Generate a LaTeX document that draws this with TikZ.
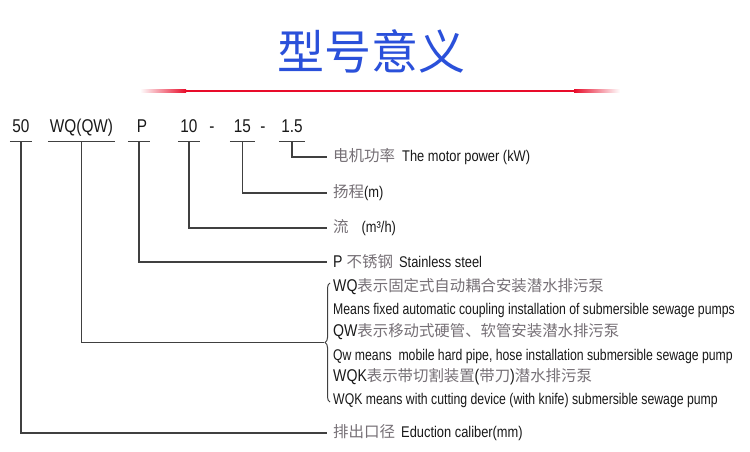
\documentclass[tikz,border=0pt]{standalone}
\usepackage{fontspec}
\setmainfont{Liberation Sans}
\newfontfamily\engfont[FakeStretch=0.83]{Liberation Sans}
\newfontfamily\engnarrow[FakeStretch=0.79]{Liberation Sans}
\newfontfamily\cjkfont{Noto Sans CJK SC}
\usetikzlibrary{decorations.pathreplacing}
\definecolor{titleblue}{RGB}{42,80,218}
\definecolor{barred}{RGB}{232,12,42}
\definecolor{linegray}{RGB}{64,64,64}
\definecolor{cjkgray}{RGB}{118,112,118}
\newcommand{\zh}[1]{{\cjkfont\color{cjkgray}#1}}
\newcommand{\bigsz}{\engfont\fontsize{17}{19}\selectfont}
\newcommand{\zhbig}[1]{{\cjkfont\fontsize{15.4}{18}\selectfont\color{cjkgray}#1}}
\tikzset{
  heading/.style={font=\cjkfont\fontsize{47}{50}\selectfont, text=titleblue, inner sep=0pt},
  code/.style ={anchor=base, inner xsep=0pt, inner ysep=0pt, text depth=9pt,
                font=\engfont\fontsize{18.5}{20}\selectfont, text=black!90},
  ul/.style   ={draw=linegray, line width=1.2pt},
  lead/.style ={draw=linegray, line width=1.2pt},
  desc/.style ={anchor=west, inner xsep=6pt, inner ysep=0pt,
                font=\engfont\fontsize{15.5}{17}\selectfont, text=black!90},
  note/.style ={anchor=west, inner sep=0pt,
                font=\engnarrow\fontsize{15.5}{17}\selectfont, text=black!90}
}

\begin{document}
\begin{tikzpicture}[x=1pt, y=-1pt]
  \useasboundingbox (0,0) rectangle (750,452);
  \fill[white] (0,0) rectangle (750,452);
  % title and bar
  \node[heading] (title) at (371,51) {型号意义};
  \fill[left color=white, right color=barred] (140,89.6) rectangle (186,92.4);
  \fill[barred] (186,89.6) rectangle (574,92.4);
  \fill[left color=barred, right color=white] (574,89.6) rectangle (620,92.4);
  % model code
  \node[code, minimum width=22pt] (c50) at (21,132) {50};
  \node[code, minimum width=67pt] (cwq) at (81.5,132) {WQ(QW)};
  \node[code, minimum width=22pt] (cp) at (139,132) {\hspace{6pt}P};
  \node[code, minimum width=22pt] (c10) at (189,132) {10};
  \node[code, text depth=0pt] (d1) at (212,132) {-};
  \node[code, minimum width=25pt] (c15) at (242.5,132) {15\hspace{6pt}};
  \node[code, text depth=0pt] (d2) at (263,132) {-};
  \node[code, minimum width=26pt] (c1p5) at (292,132) {1.5};
  \foreach \n in {c50,cwq,cp,c10,c15,c1p5}
    \draw[ul] (\n.south west) -- (\n.south east);
  % meanings
  \node[desc] (motor) at (327,157) {\zh{电机功率}\hspace{7pt}The motor power (kW)};
  \node[desc] (head) at (327,193) {\zh{扬程}(m)};
  \node[desc] (flow) at (327,228) {\zh{流}\hspace{13pt}(m³/h)};
  \node[desc] (steel) at (327,262) {{\bigsz P}\hspace{4pt}\zh{不锈钢}\hspace{6pt}Stainless steel};
  \node[note] (wq) at (333,287) {{\bigsz WQ}\zhbig{表示固定式自动耦合安装潜水排污泵}};
  \node[note] (wqen) at (333,310) {Means fixed automatic coupling installation of submersible sewage pumps};
  \node[note] (qw) at (333,332) {{\bigsz QW}\zhbig{表示移动式硬管、软管安装潜水排污泵}};
  \node[note] (qwen) at (333,356) {Qw means\ \ mobile hard pipe, hose installation submersible sewage pump};
  \node[note] (wqk) at (333,377) {{\bigsz WQK}\zhbig{表示带切割装置}{\bigsz(}\zhbig{带刀}{\bigsz)}\zhbig{潜水排污泵}};
  \node[note] (wqken) at (333,400) {WQK means with cutting device (with knife) submersible sewage pump};
  \node[desc] (caliber) at (327,433) {\zh{排出口径}\hspace{6pt}Eduction caliber(mm)};
  \draw[draw=linegray, line width=1pt, decorate, decoration={brace, amplitude=5pt}]
    (330,402) -- (330,283);
  \coordinate (tip) at (324,342.5);
  % leaders
  \draw[lead] (c1p5.south) |- (motor.west);
  \draw[lead] (c15.south) |- (head.west);
  \draw[lead] (c10.south) |- (flow.west);
  \draw[lead] (cp.south) |- (steel.west);
  \draw[lead] (cwq.south) |- (tip);
  \draw[lead] (c50.south) |- (caliber.west);
\end{tikzpicture}
\end{document}
